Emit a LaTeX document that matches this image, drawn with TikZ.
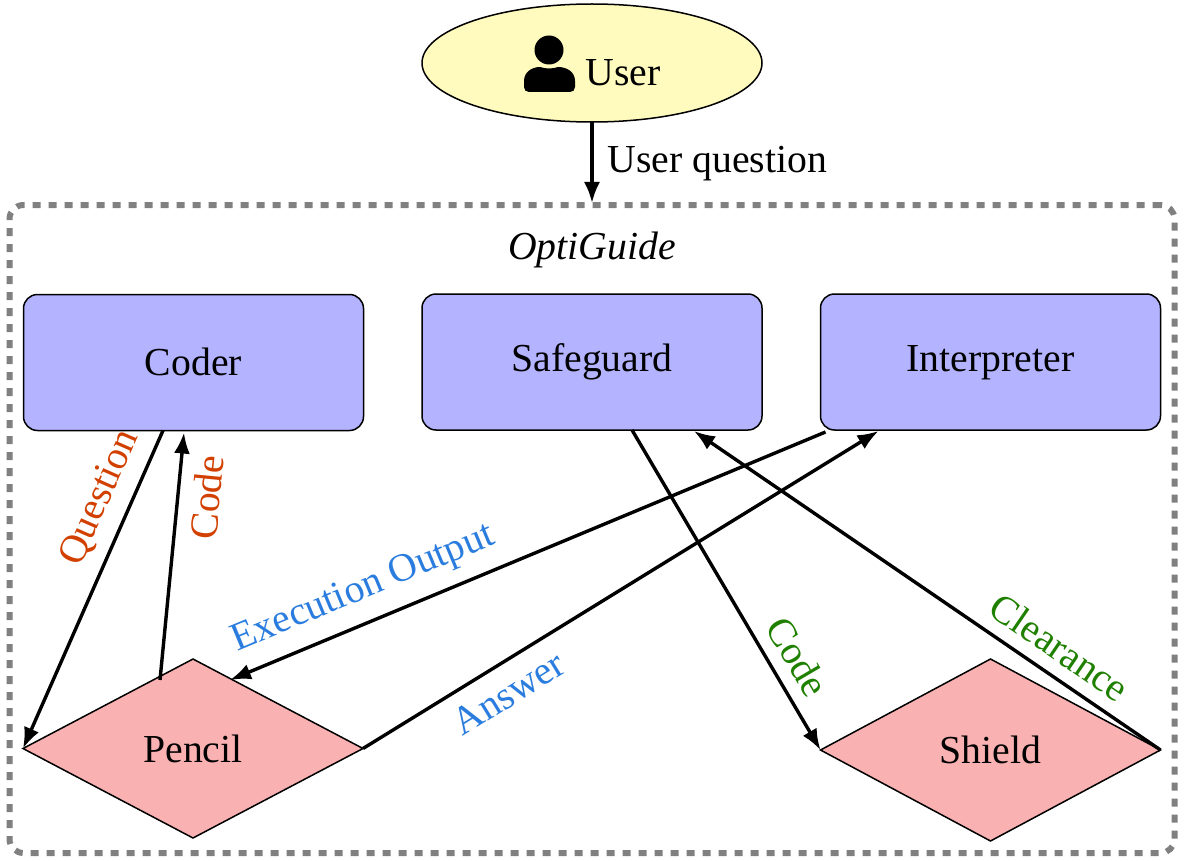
\documentclass[tikz,border=0pt]{standalone}
\usepackage{fontspec}
\setmainfont{Liberation Serif}
\usetikzlibrary{shapes.geometric,arrows.meta,calc}
\definecolor{cuser}{HTML}{FFFBBF}
\definecolor{cagent}{HTML}{B3B3FF}
\definecolor{ctool}{HTML}{F9B1B1}
\definecolor{corg}{HTML}{D24000}
\definecolor{cblu}{HTML}{2A7DDE}
\definecolor{cgrn}{HTML}{1F8000}
\tikzset{
  every node/.style={font=\fontsize{39.7}{48}\selectfont, outer sep=0pt},
  agentbox/.style={draw=black, line width=1.5pt, fill=cagent, rounded corners=14pt, minimum width=340pt, minimum height=136pt, inner sep=0pt, text height=27pt},
  toolbox/.style={draw=black, line width=1.5pt, fill=ctool, diamond, aspect=1.89, minimum width=340pt, minimum height=180pt, inner sep=0pt},
  userbox/.style={draw=black, line width=1.5pt, fill=cuser, ellipse, minimum width=340pt, minimum height=118pt, inner sep=0pt},
  groupbox/.style={draw=black!50, line width=6pt, dash pattern=on 8pt off 8pt, rounded corners=14pt, minimum width=1165pt, minimum height=648pt, inner sep=0pt},
  conn/.style={draw=black, line width=3.4pt, -{Latex[length=21pt,width=16pt]}},
  lblo/.style={text=corg, inner sep=0pt},
  lblb/.style={text=cblu, inner sep=0pt},
  lblg/.style={text=cgrn, inner sep=0pt},
}
\begin{document}
\begin{tikzpicture}[x=1pt,y=-1pt]
\useasboundingbox (0,0) rectangle (1185,861);
\node[groupbox] (opti) at (592,529) {};
\node[userbox] (user) at (592,63) {};
\node[anchor=base west, inner sep=0pt] (usertext) at (585.5,86) {User};
\fill (549,50) circle (14.5);
\fill (524,87) -- (524,81) .. controls (524,72) and (532,67) .. (540,67)
      .. controls (546,69) and (552,69) .. (558,67)
      .. controls (567,67) and (575,72) .. (575,81) -- (575,87)
      .. controls (575,90) and (573,92) .. (570,92) -- (529,92)
      .. controls (526,92) and (524,90) .. (524,87) -- cycle;
\node[inner sep=0pt] (title) at (592,250) {\itshape OptiGuide};
\node[agentbox] (coder) at (193.5,362.5) {Coder};
\node[agentbox] (safe) at (592,362) {Safeguard};
\node[agentbox] (interp) at (990.5,362) {Interpreter};
\node[toolbox, minimum height=179pt] (pencil) at (193,748.5) {Pencil};
\node[toolbox, minimum height=182pt] (shield) at (990.5,750) {Shield};
\draw[conn, shorten >=2pt] (user.south) -- node[right=15.5pt, inner sep=0pt, pos=.5] {User question} (opti.north -| user.south);
\draw[conn] ($(coder.south)+(-30.5,0)$) -- node[lblo, pos=.25, sloped, above=14pt] {Question} (pencil.west);
\draw[conn] ($(pencil.north)+(-33,21)$) -- node[lblo, pos=.75, sloped, below=15pt] {Code} ($(coder.south)+(-9.5,2)$);
\draw[conn] ($(interp.south west)+(5,2)$) -- node[lblb, pos=.755, sloped, above=15pt] {Execution Output} ($(pencil.north)+(37,21)$);
\draw[conn] (pencil.east) -- node[lblb, pos=.253, sloped, below=16pt] {Answer} ($(interp.south west)+(58,1)$);
\draw[conn] ($(safe.south)+(40,0)$) -- node[lblg, pos=.752, sloped, above=14pt] {Code} (shield.west);
\draw[conn] (shield.east) -- node[lblg, pos=.25, sloped, above=14pt] {Clearance} ($(safe.south)+(102,1)$);
\end{tikzpicture}
\end{document}
